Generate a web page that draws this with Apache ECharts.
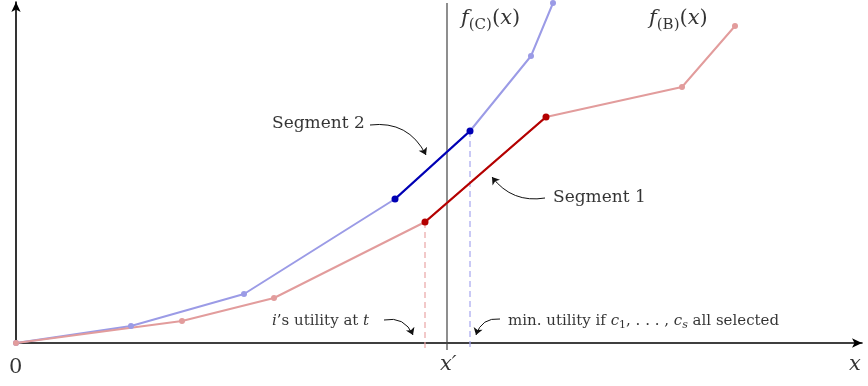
<!DOCTYPE html>
<html>
<head>
<meta charset="utf-8">
<script src="https://cdn.jsdelivr.net/npm/echarts@6/dist/echarts.min.js"></script>
<style>
  html, body { margin: 0; padding: 0; background: #fff; }
  #chart { width: 868px; height: 386px; }
</style>
</head>
<body>
<div id="chart"></div>
<script>
// values in picture units, origin at the axes' corner
const curveC = [[0, 0], [115, 17], [228, 49], [379, 144], [454, 212], [515, 287], [537, 340]];
const curveB = [[0, 0], [166, 22], [258, 45], [409, 121], [530, 226], [666, 256], [719, 317]];
const segment2 = [[379, 144], [454, 212]];
const segment1 = [[409, 121], [530, 226]];
const xPrime = 431;
const utilityAtT = 409;
const minUtility = 454;

const serif = "DejaVu Serif";
const ink = "#000";
const light = { blue: "#9b9be6", red: "#e29c9c" };
const dark = { blue: "#0000b4", red: "#b40000" };

const lineSeries = (name, data, color, width, size) => ({
  name, type: "line", data, symbol: "circle", symbolSize: size,
  lineStyle: { color, width }, itemStyle: { color }, clip: false,
  animation: false, silent: true, z: 3
});

const vline = (x, top, color, type, width) => ({
  type: "line", data: [[x, top], [x, -7]], symbol: "none", clip: false,
  lineStyle: { color, width, type }, animation: false, silent: true, z: 2
});

const rich = {
  t: { fontFamily: serif, fontSize: 15, color: ink },
  i: { fontFamily: serif, fontSize: 15, fontStyle: "italic", color: ink },
  sub: { fontFamily: serif, fontSize: 11, fontStyle: "italic", color: ink, padding: [8, 0, 0, 0] },
  subr: { fontFamily: serif, fontSize: 11, color: ink, padding: [8, 0, 0, 0] },
  big: { fontFamily: serif, fontSize: 17, color: ink },
  paren: { fontFamily: serif, fontSize: 21, color: ink },
  bigi: { fontFamily: serif, fontSize: 21, fontStyle: "italic", color: ink },
  fsub: { fontFamily: serif, fontSize: 15, color: ink, padding: [12, 0, 0, 0] }
};

const notes = [
  { value: [256, 219], text: "{big|Segment 2}" },
  { value: [537, 145], text: "{big|Segment 1}" },
  { value: [256, 22], text: "{i|i}{t|’s utility at }{i|t}" },
  { value: [492, 22], text: "{t|min. utility if }{i|c}{subr|1}{t|, . . . , }{i|c}{sub|s}{t| all selected}" },
  { value: [445, 324], text: "{bigi|f}{fsub|(C)}{paren|(}{bigi|x}{paren|)}" },
  { value: [633, 324], text: "{bigi|f}{fsub|(B)}{paren|(}{bigi|x}{paren|)}" },
  { value: [-7, -25], text: "{paren|0}" },
  { value: [424, -22], text: "{bigi|x′}" },
  { value: [833, -22], text: "{bigi|x}" }
];

const arrows = [
  { coords: [[354, 218], [410, 188]], curve: 0.35 },
  { coords: [[529, 145], [476, 166]], curve: 0.3 },
  { coords: [[368, 23], [397, 8]], curve: 0.4 },
  { coords: [[484, 24], [460, 8]], curve: -0.4 }
];

const chart = echarts.init(document.getElementById("chart"));
chart.setOption({
  animation: false,
  grid: { left: 16, right: 6, top: 2, bottom: 43 },
  xAxis: {
    type: "value", min: 0, max: 846,
    axisLine: { lineStyle: { color: "#000", width: 1.6 }, symbol: ["none", "arrow"], symbolSize: [7, 10] },
    axisTick: { show: false }, axisLabel: { show: false }, splitLine: { show: false }
  },
  yAxis: {
    type: "value", min: 0, max: 341,
    axisLine: { lineStyle: { color: "#000", width: 1.6 }, symbol: ["none", "arrow"], symbolSize: [7, 10] },
    axisTick: { show: false }, axisLabel: { show: false }, splitLine: { show: false }
  },
  series: [
    vline(xPrime, 340, "#444", "solid", 1.2),
    vline(utilityAtT, segment1[0][1], "#eaa6a6", [6, 4], 1.2),
    vline(minUtility, segment2[1][1], "#a6a6ee", [6, 4], 1.2),
    lineSeries("C", curveC, light.blue, 2, 6),
    lineSeries("B", curveB, light.red, 2, 6),
    lineSeries("seg2", segment2, dark.blue, 2.2, 7),
    lineSeries("seg1", segment1, dark.red, 2.2, 7),
    {
      type: "scatter", symbolSize: 0, clip: false, silent: true, z: 5,
      data: notes.map(n => ({
        value: n.value,
        label: { show: true, position: "right", distance: 0, color: ink, formatter: n.text, rich }
      }))
    },
    ...arrows.map(a => ({
      type: "lines", coordinateSystem: "cartesian2d", silent: true, z: 4,
      symbol: ["none", "arrow"], symbolSize: 7,
      lineStyle: { color: "#111", width: 1, curveness: a.curve, opacity: 1 },
      data: [{ coords: a.coords }]
    }))
  ]
});
</script>
</body>
</html>
